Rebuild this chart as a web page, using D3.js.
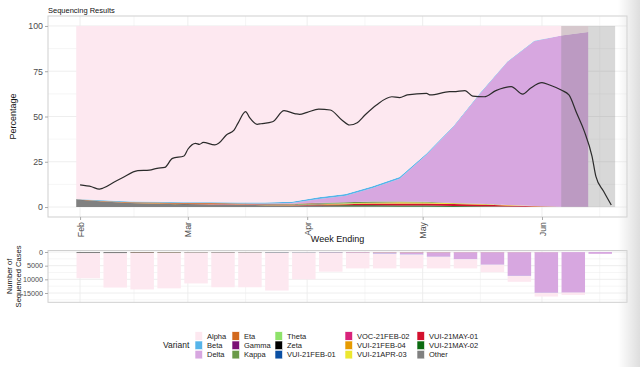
<!DOCTYPE html>
<html>
<head>
<meta charset="utf-8">
<script src="https://cdn.jsdelivr.net/npm/d3@7"></script>
<style>
  body { margin: 0; background: #fff; }
  svg { display: block; font-family: "Liberation Sans", Arial, sans-serif; }
</style>
</head>
<body>
<script>
// Chart data
var parseDate = d3.utcParse("%Y-%m-%d");

var variants = ["Alpha", "Beta", "Delta", "Eta", "Gamma", "Kappa", "Theta", "Zeta",
    "VUI-21FEB-01", "VOC-21FEB-02", "VUI-21FEB-04", "VUI-21APR-03",
    "VUI-21MAY-01", "VUI-21MAY-02", "Other"];

var weeks = ["2021-01-31", "2021-02-07", "2021-02-14", "2021-02-21", "2021-02-28",
    "2021-03-07", "2021-03-14", "2021-03-21", "2021-03-28", "2021-04-04",
    "2021-04-11", "2021-04-18", "2021-04-25", "2021-05-02", "2021-05-09",
    "2021-05-16", "2021-05-23", "2021-05-30", "2021-06-06", "2021-06-13"];

// weekly share of sequenced cases (%)
var alphaPct = [95.5, 96.3, 97.0, 97.1, 97.3, 97.3, 97.5, 97.5, 97.1, 94.6, 92.7, 88.5, 83.4, 70.5, 55.2, 36.8, 19.6, 8.2, 5.2, 3.3];
var betaPct = [0.2, 0.3, 0.3, 0.4, 0.4, 0.5, 0.5, 0.6, 0.7, 1.0, 1.0, 1.0, 1.0, 0.6, 0.5, 0.4, 0.3, 0.2, 0.1, 0.1];
var deltaPct = [0, 0, 0, 0, 0, 0, 0, 0.1, 0.4, 2.0, 3.5, 7.5, 12.5, 26, 42, 61, 79, 91, 94.5, 96.5];
var etaPct = [0.2, 0.3, 0.4, 0.5, 0.5, 0.4, 0.4, 0.3, 0.2, 0.2, 0.1, 0, 0, 0, 0, 0, 0, 0, 0, 0];
var gammaPct = [0, 0, 0, 0, 0.1, 0.1, 0.1, 0.1, 0.1, 0.1, 0, 0, 0, 0, 0, 0, 0, 0, 0, 0];
var kappaPct = [0, 0, 0, 0, 0, 0, 0, 0, 0.1, 0.3, 0.5, 0.6, 0.5, 0.4, 0.2, 0.1, 0, 0, 0, 0];
var thetaPct = [0, 0, 0, 0, 0, 0, 0, 0, 0, 0.1, 0.1, 0, 0, 0, 0, 0, 0, 0, 0, 0];
var zetaPct = [0.1, 0.1, 0.1, 0.1, 0.1, 0, 0, 0, 0, 0, 0, 0, 0, 0, 0, 0, 0, 0, 0, 0];
var feb01Pct = [0, 0, 0, 0, 0, 0, 0, 0.1, 0.1, 0.1, 0, 0, 0, 0, 0, 0, 0, 0, 0, 0];
var feb02Pct = [0, 0, 0, 0, 0, 0.1, 0.1, 0.1, 0.1, 0.1, 0.1, 0, 0, 0, 0, 0, 0, 0, 0, 0];
var feb04Pct = [0, 0, 0, 0.1, 0.1, 0.2, 0.2, 0.2, 0.2, 0.2, 0.1, 0.1, 0.1, 0, 0, 0, 0, 0, 0, 0];
var apr03Pct = [0, 0, 0, 0, 0, 0, 0, 0, 0, 0.1, 0.2, 0.4, 0.5, 0.5, 0.4, 0.3, 0.2, 0.1, 0, 0];
var may01Pct = [0, 0, 0, 0, 0, 0, 0, 0, 0.1, 0.3, 0.6, 0.9, 1.1, 1.2, 1.1, 0.9, 0.6, 0.3, 0.1, 0];
var may02Pct = [0, 0, 0, 0, 0, 0, 0, 0, 0.1, 0.3, 0.5, 0.6, 0.6, 0.5, 0.4, 0.3, 0.2, 0.1, 0, 0];
var otherPct = [4.0, 3.0, 2.2, 1.8, 1.5, 1.4, 1.2, 1.0, 0.8, 0.6, 0.5, 0.4, 0.3, 0.3, 0.2, 0.2, 0.1, 0.1, 0.1, 0.1];

// number of sequenced cases per week
var weeklyTotals = [9600, 13000, 13700, 13300, 11500, 12900, 12900, 14100, 10000, 7200,
    6000, 6000, 6000, 6000, 6000, 7400, 10900, 16300, 15700, 700];

// black line (%)
var lineDates = ["2021-02-01", "2021-02-04", "2021-02-06", "2021-02-07", "2021-02-10", "2021-02-12",
    "2021-02-16", "2021-02-19", "2021-02-21", "2021-02-23", "2021-02-25", "2021-02-28",
    "2021-03-01", "2021-03-03", "2021-03-04", "2021-03-05", "2021-03-08", "2021-03-09",
    "2021-03-11", "2021-03-13", "2021-03-14", "2021-03-16", "2021-03-17", "2021-03-19",
    "2021-03-20", "2021-03-23", "2021-03-26", "2021-03-29", "2021-03-30", "2021-04-01",
    "2021-04-04", "2021-04-07", "2021-04-10", "2021-04-12", "2021-04-14", "2021-04-16",
    "2021-04-19", "2021-04-23", "2021-04-25", "2021-04-27", "2021-05-02", "2021-05-03",
    "2021-05-08", "2021-05-09", "2021-05-12", "2021-05-14", "2021-05-17", "2021-05-20",
    "2021-05-24", "2021-05-27", "2021-05-29", "2021-06-01", "2021-06-03", "2021-06-06",
    "2021-06-08", "2021-06-10", "2021-06-12", "2021-06-14", "2021-06-15", "2021-06-17",
    "2021-06-19"];
var lineValues = [12.2, 11.2, 9.9, 10.5, 14.0, 16.2,
    20.1, 20.4, 21.4, 21.9, 26.9, 28.2,
    31.9, 35.2, 34.6, 35.7, 34.3, 35.2,
    39.8, 42.5, 46.2, 52.7, 49.5, 45.7,
    46.0, 47.1, 53.2, 51.5, 51.2, 52.3,
    54.1, 53.6, 48.1, 45.3, 46.6, 50.8,
    56.4, 60.9, 60.4, 61.9, 62.8, 61.9,
    63.7, 63.7, 64.3, 61.3, 60.9, 64.3,
    66.5, 62.4, 65.6, 68.7, 67.4, 64.6,
    61.9, 51.9, 41.8, 28.0, 16.9, 8.7,
    1.1];

var incomplete = ["2021-06-06", "2021-06-20"];
var monthTicks = ["2021-02-01", "2021-03-01", "2021-04-01", "2021-05-01", "2021-06-01"];
var monthMinor = ["2021-02-15", "2021-03-16", "2021-04-16", "2021-05-16", "2021-06-16"];
var pctTicks = [0, 25, 50, 75, 100];
var countTicks = [0, 5000, 10000, 15000];

var variantColors = ["#fde8f0", "#56b4e9", "#d7a7e0", "#d2691e", "#7b0f74", "#6a9a48",
    "#8ee26a", "#000000", "#0a4fa3", "#d8237b", "#e69a00", "#ece72f",
    "#d3112e", "#0b6a10", "#808080"];

var pctSeries = [alphaPct, betaPct, deltaPct, etaPct, gammaPct, kappaPct, thetaPct, zetaPct,
    feb01Pct, feb02Pct, feb04Pct, apr03Pct, may01Pct, may02Pct, otherPct];

// Build rows
var weekRows = weeks.map(function (w, i) {
    var row = { date: parseDate(w) };
    variants.forEach(function (v, j) { row[v] = pctSeries[j][i]; });
    return row;
});
var countRows = weekRows.map(function (r, i) {
    var sum = d3.sum(variants, function (v) { return r[v]; });
    var row = { date: r.date };
    variants.forEach(function (v) { row[v] = weeklyTotals[i] * r[v] / sum; });
    return row;
});
var lineData = lineDates.map(function (d, i) { return { date: parseDate(d), value: lineValues[i] }; });

var color = d3.scaleOrdinal().domain(variants).range(variantColors);

// Layout
var svgWidth = 640, svgHeight = 367;
var panelLeft = 48, panelRight = 627;
var topPanel = { top: 16, bottom: 217 };
var botPanel = { top: 250.5, bottom: 302.3 };

var svg = d3.select("body").append("svg")
    .attr("width", svgWidth)
    .attr("height", svgHeight);

var x = d3.scaleUtc()
    .domain([Date.UTC(2021, 0, 23, 16), Date.UTC(2021, 5, 23, 2)])
    .range([panelLeft, panelRight]);

var y = d3.scaleLinear()
    .domain([-5.5, 105.5])
    .range([topPanel.bottom, topPanel.top]);

var yCount = d3.scaleLinear()
    .domain([-550, 18400])
    .range([botPanel.top, botPanel.bottom]);

var gridColor = "#ececec", borderColor = "#cfcfcf", tickText = "#4d4d4d";

// ---- Top panel grid
var grid = svg.append("g");
pctTicks.forEach(function (t, i) {
    grid.append("line").attr("x1", panelLeft).attr("x2", panelRight)
        .attr("y1", y(t)).attr("y2", y(t)).attr("stroke", gridColor).attr("stroke-width", 0.9);
    if (i < pctTicks.length - 1) {
        var m = (t + pctTicks[i + 1]) / 2;
        grid.append("line").attr("x1", panelLeft).attr("x2", panelRight)
            .attr("y1", y(m)).attr("y2", y(m)).attr("stroke", gridColor).attr("stroke-width", 0.5);
    }
});
monthTicks.forEach(function (t) {
    grid.append("line").attr("x1", x(parseDate(t))).attr("x2", x(parseDate(t)))
        .attr("y1", topPanel.top).attr("y2", topPanel.bottom).attr("stroke", gridColor).attr("stroke-width", 0.9);
});
monthMinor.forEach(function (t) {
    grid.append("line").attr("x1", x(parseDate(t))).attr("x2", x(parseDate(t)))
        .attr("y1", topPanel.top).attr("y2", topPanel.bottom).attr("stroke", gridColor).attr("stroke-width", 0.5);
});

// ---- Stacked area (share of sequenced cases)
var stackKeys = variants.slice().reverse();
var pctStack = d3.stack().keys(stackKeys).offset(d3.stackOffsetExpand)(weekRows);

var area = d3.area()
    .x(function (d) { return x(d.data.date); })
    .y0(function (d) { return y(d[0] * 100); })
    .y1(function (d) { return y(d[1] * 100); });

svg.append("g").selectAll("path")
    .data(pctStack)
    .enter()
    .append("path")
    .attr("d", area)
    .attr("fill", function (d) { return color(d.key); });

// incomplete data window
svg.append("rect")
    .attr("x", x(parseDate(incomplete[0])))
    .attr("y", y(100))
    .attr("width", x(parseDate(incomplete[1])) - x(parseDate(incomplete[0])))
    .attr("height", y(0) - y(100))
    .attr("fill", "#7f7f7f")
    .attr("opacity", 0.3);

// black line
svg.append("path")
    .datum(lineData)
    .attr("d", d3.line().curve(d3.curveMonotoneX)
        .x(function (d) { return x(d.date); })
        .y(function (d) { return y(d.value); }))
    .attr("fill", "none")
    .attr("stroke", "#2b2b2b")
    .attr("stroke-width", 1.2);

// panel border
svg.append("rect")
    .attr("x", panelLeft).attr("y", topPanel.top)
    .attr("width", panelRight - panelLeft).attr("height", topPanel.bottom - topPanel.top)
    .attr("fill", "none").attr("stroke", borderColor).attr("stroke-width", 1);

// axes
var leftAxis = d3.axisLeft(y).tickValues(pctTicks).tickSize(3).tickPadding(2);
var yAxisG = svg.append("g").attr("transform", "translate(" + panelLeft + ",0)").call(leftAxis);

var bottomAxis = d3.axisBottom(x).tickValues(monthTicks.map(parseDate))
    .tickFormat(d3.utcFormat("%b")).tickSize(3);
var xAxisG = svg.append("g").attr("transform", "translate(0," + topPanel.bottom + ")").call(bottomAxis);
xAxisG.selectAll("text")
    .attr("transform", "rotate(-90)")
    .attr("x", -5).attr("y", 0).attr("dy", "0.35em")
    .style("text-anchor", "end");

[yAxisG, xAxisG].forEach(function (g) {
    g.select(".domain").remove();
    g.selectAll(".tick line").attr("stroke", "#aaaaaa");
    g.selectAll("text").attr("fill", tickText).attr("font-size", 8.8)
        .attr("font-family", "Liberation Sans, Arial, sans-serif");
});

// titles
svg.append("text").attr("x", panelLeft).attr("y", 12.5)
    .attr("font-size", 7.5).attr("fill", "#111").text("Sequencing Results");

svg.append("text")
    .attr("transform", "translate(16," + ((topPanel.top + topPanel.bottom) / 2) + ") rotate(-90)")
    .attr("text-anchor", "middle").attr("font-size", 9).attr("fill", "#111")
    .text("Percentage");

svg.append("text")
    .attr("x", (panelLeft + panelRight) / 2).attr("y", 242)
    .attr("text-anchor", "middle").attr("font-size", 9).attr("fill", "#111")
    .text("Week Ending");

// ---- Bottom panel
var grid2 = svg.append("g");
countTicks.forEach(function (t) {
    grid2.append("line").attr("x1", panelLeft).attr("x2", panelRight)
        .attr("y1", yCount(t)).attr("y2", yCount(t)).attr("stroke", gridColor).attr("stroke-width", 0.9);
    grid2.append("line").attr("x1", panelLeft).attr("x2", panelRight)
        .attr("y1", yCount(t + 2500)).attr("y2", yCount(t + 2500)).attr("stroke", gridColor).attr("stroke-width", 0.5);
});
monthTicks.concat(monthMinor).forEach(function (t, i) {
    grid2.append("line").attr("x1", x(parseDate(t))).attr("x2", x(parseDate(t)))
        .attr("y1", botPanel.top).attr("y2", botPanel.bottom).attr("stroke", gridColor)
        .attr("stroke-width", i < monthTicks.length ? 0.9 : 0.5);
});

var countStack = d3.stack().keys(stackKeys)(countRows);
var barDays = 6.1 * 864e5;

svg.append("g").selectAll("g")
    .data(countStack)
    .enter()
    .append("g")
    .attr("fill", function (d) { return color(d.key); })
    .selectAll("rect")
    .data(function (d) { return d; })
    .enter()
    .append("rect")
    .attr("x", function (d) { return x(d.data.date) + 0.3; })
    .attr("width", function (d) { return x(new Date(+d.data.date + barDays)) - x(d.data.date); })
    .attr("y", function (d) { return yCount(d[0]); })
    .attr("height", function (d) { return Math.max(0, yCount(d[1]) - yCount(d[0])); });

svg.append("rect")
    .attr("x", panelLeft).attr("y", botPanel.top)
    .attr("width", panelRight - panelLeft).attr("height", botPanel.bottom - botPanel.top)
    .attr("fill", "none").attr("stroke", borderColor).attr("stroke-width", 1);

var countAxis = d3.axisLeft(yCount).tickValues(countTicks).tickFormat(d3.format("d"))
    .tickSize(3).tickPadding(2);
var cAxisG = svg.append("g").attr("transform", "translate(" + panelLeft + ",0)").call(countAxis);
cAxisG.select(".domain").remove();
cAxisG.selectAll(".tick line").attr("stroke", "#aaaaaa");
cAxisG.selectAll("text").attr("fill", tickText).attr("font-size", 7.2)
    .attr("font-family", "Liberation Sans, Arial, sans-serif");

var cTitle = svg.append("text")
    .attr("transform", "translate(0," + ((botPanel.top + botPanel.bottom) / 2) + ") rotate(-90)")
    .attr("text-anchor", "middle").attr("font-size", 7.6).attr("fill", "#111");
cTitle.append("tspan").attr("x", 0).attr("y", 12).text("Number of");
cTitle.append("tspan").attr("x", 0).attr("y", 21).text("Sequenced Cases");

// ---- Legend
var legendCols = [195, 232, 275, 345, 417];
var legendRows = [336, 345.3, 354.6];
var legend = svg.append("g").attr("font-size", 7.5).attr("fill", "#222");

legend.append("text").attr("x", 163).attr("y", legendRows[1]).attr("dy", "0.35em")
    .attr("font-size", 8.5).text("Variant");

var items = legend.selectAll("g.item")
    .data(variants)
    .enter()
    .append("g")
    .attr("class", "item")
    .attr("transform", function (d, i) {
        return "translate(" + legendCols[Math.floor(i / 3)] + "," + legendRows[i % 3] + ")";
    });
items.append("rect")
    .attr("x", 0).attr("y", -4.3).attr("width", 7.5).attr("height", 8.6)
    .attr("fill", function (d) { return color(d); })
    .attr("stroke", "#ffffff").attr("stroke-width", 0.6);
items.append("text")
    .attr("x", 12).attr("dy", "0.35em")
    .text(function (d) { return d; });

// page edge shading on the right
var defs = svg.append("defs");
var grad = defs.append("linearGradient").attr("id", "edgeShade");
grad.append("stop").attr("offset", "0%").attr("stop-color", "#d8d8d8").attr("stop-opacity", 0);
grad.append("stop").attr("offset", "100%").attr("stop-color", "#d8d8d8").attr("stop-opacity", 0.85);
svg.append("rect").attr("x", 618).attr("y", 0).attr("width", 22).attr("height", svgHeight)
    .attr("fill", "url(#edgeShade)");
</script>
</body>
</html>
